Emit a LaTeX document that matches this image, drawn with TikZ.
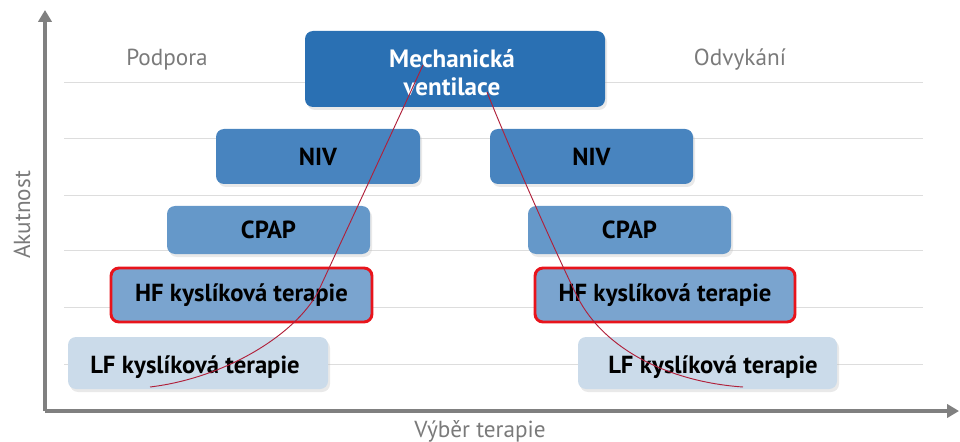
\documentclass[tikz,border=0pt]{standalone}
\usepackage{fontspec}
\setmainfont{PT Sans}
\usetikzlibrary{arrows.meta}
\definecolor{mechc}{HTML}{2A70B3}
\definecolor{nivc}{HTML}{4884BF}
\definecolor{cpapc}{HTML}{6598C9}
\definecolor{hfc}{HTML}{7AA4CF}
\definecolor{lfc}{HTML}{CBDBEA}
\definecolor{axisc}{HTML}{808080}
\definecolor{gridc}{HTML}{DDDDDD}
\definecolor{labc}{HTML}{7A7A7A}
\definecolor{curvec}{HTML}{B0203A}
\definecolor{hfborder}{HTML}{E8141C}
\tikzset{
  tbox/.style={rounded corners=6pt, anchor=center, inner sep=0pt, font=\fontsize{18.5}{20}\selectfont\bfseries, text=black},
  shad/.style={fill=black!25, rounded corners=6pt, draw=none},
  lab/.style={text=labc, font=\fontsize{17.4}{20}\selectfont, inner sep=0pt},
  gline/.style={draw=gridc, line width=0.6pt},
  axisl/.style={draw=axisc, line width=3pt, -{Triangle[length=9pt,width=10pt]}},
  curvel/.style={draw=curvec, line width=0.7pt},
}
\begin{document}
\begin{tikzpicture}[x=0.75pt,y=-0.75pt]
\useasboundingbox (0,0) rectangle (960,442);
% grid lines
\foreach \yy in {82,138,195,250,307,364}{
  \draw[gline] (64,\yy) -- (923,\yy);
}
% axes
\coordinate (orig) at (45,411);
\coordinate (ytop) at (45,10);
\coordinate (xend) at (959,411);
\draw[axisl] (orig) -- (ytop);
\draw[axisl] (orig) -- (xend);
% axis labels
\node[lab, rotate=90] (akut) at (22,215) {Akutnost};
\node[lab] (vyber) at (480,431) {Výběr terapie};
\node[lab] (podp) at (167,60) {Podpora};
\node[lab] (odv) at (740,60) {Odvykání};
% shadows
\foreach \a/\b/\c/\d in {305/31/605/107, 216/129/420/184, 490/129/693/184, 167/206/370/254, 528/206/731/254, 68/337/328/389, 578/337/837/389}{
  \fill[shad, opacity=0.35] (\a+2,\b+3) rectangle (\c+2,\d+3);
}
% boxes
\node[tbox, fill=mechc, minimum width=225pt, minimum height=57pt] (mech) at (455,69) {};
\node[tbox, text=white, align=center, font=\fontsize{18.8}{21}\selectfont\bfseries] (mechtxt) at (452,73) {Mechanická\\ventilace};
\node[tbox, fill=nivc, minimum width=153pt, minimum height=41.25pt] (nivl) at (318,156.5) {NIV};
\node[tbox, fill=nivc, minimum width=152.25pt, minimum height=41.25pt] (nivr) at (591.5,156.5) {NIV};
\node[tbox, fill=cpapc, minimum width=152.25pt, minimum height=36pt] (cpapl) at (268.5,230) {CPAP};
\node[tbox, fill=cpapc, minimum width=152.25pt, minimum height=36pt] (cpapr) at (629.5,230) {CPAP};
\node[tbox, fill=hfc, draw=hfborder, line width=2.2pt, minimum width=195.75pt, minimum height=40.5pt] (hfl) at (241.5,295) {HF kyslíková terapie};
\node[tbox, fill=hfc, draw=hfborder, line width=2.2pt, minimum width=195pt, minimum height=40.5pt] (hfr) at (665,295) {HF kyslíková terapie};
\node[tbox, fill=lfc, minimum width=195pt, minimum height=39pt] (lfl) at (198,363) {};
\node[tbox, anchor=center] (lfltxt) at (195,367) {LF kyslíková terapie};
\node[tbox, fill=lfc, minimum width=194.25pt, minimum height=39pt] (lfr) at (707.5,363) {};
\node[tbox, anchor=center] (lfrtxt) at (713,367) {LF kyslíková terapie};
% curves
\coordinate (ls) at (423,65);
\coordinate (lm) at (318,292);
\coordinate (le) at (150,387);
\coordinate (rs) at (487,92);
\coordinate (rm) at (578,298);
\coordinate (re) at (743,387);
\draw[curvel] (ls) .. controls (395,126) and (335,255) .. (lm) .. controls (295,335) and (225,378) .. (le);
\draw[curvel] (rs) .. controls (510,150) and (558,258) .. (rm) .. controls (605,350) and (670,382) .. (re);
\end{tikzpicture}
\end{document}
